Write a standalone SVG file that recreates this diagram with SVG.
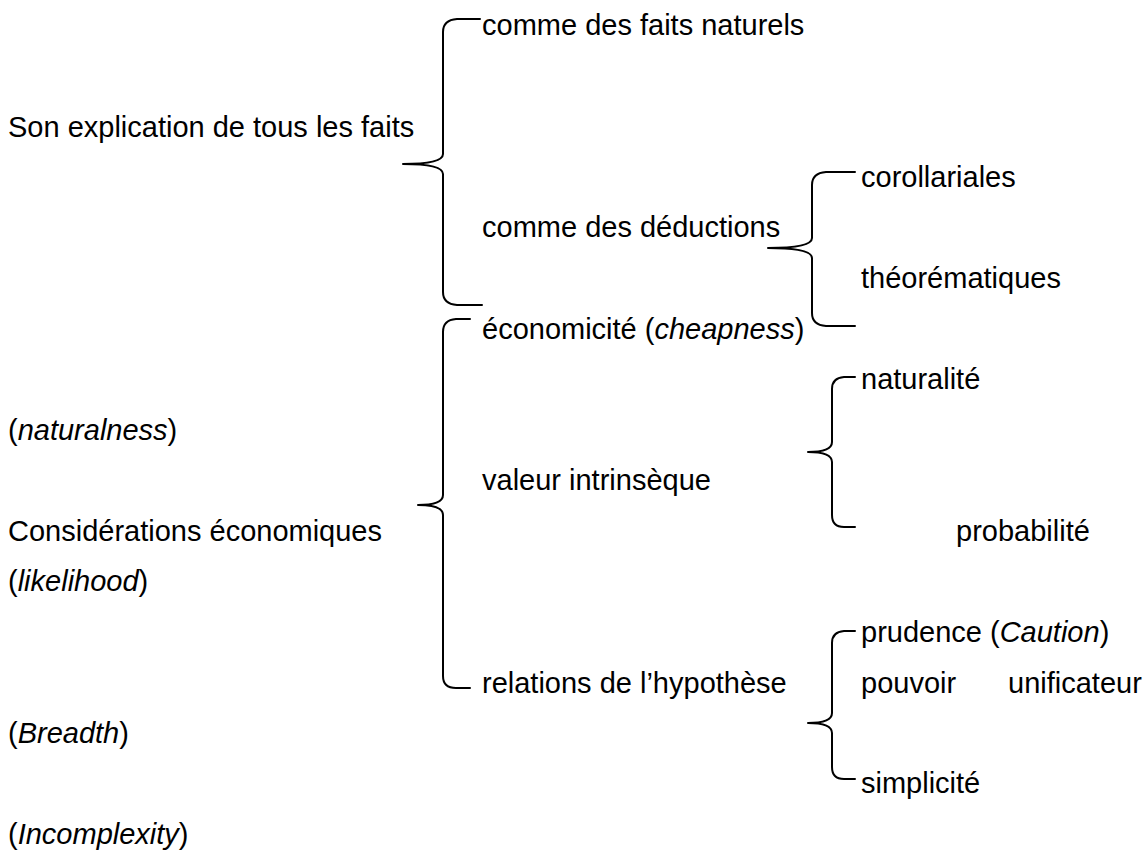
<svg xmlns="http://www.w3.org/2000/svg" width="1146" height="851" viewBox="0 0 1146 851">
<style>
text{font-family:"Liberation Sans",Arial,sans-serif;font-size:29px;fill:#000}
.i{font-style:italic}
.brace{fill:none;stroke:#000;stroke-width:2;stroke-linejoin:round;stroke-linecap:round}
</style>
<rect width="1146" height="851" fill="#fff"/>
<g id="connectors">
<path class="brace" d="M480,19 L457,19 Q443,20 443,32 L443,154 Q443,164 403,164 Q443,164 443,174 L443,292 Q443,304 457,305 L482,305"/>
<path class="brace" d="M470,319 L456,319 Q443,320 443,332 L443,495 Q443,505 418,505 Q443,505 443,515 L443,676 Q443,688 456,688 L470,688"/>
<path class="brace" d="M855,172 L826,172 Q812,173 812,185 L812,238 Q812,248 768,248 Q812,248 812,258 L812,313 Q812,325 826,326 L855,326"/>
<path class="brace" d="M855,377 L844,377 Q832,378 832,389 L832,442 Q832,452 808,452 Q832,452 832,462 L832,515 Q832,527 844,527 L855,527"/>
<path class="brace" d="M855,631 L844,631 Q832,632 832,643 L832,713 Q832,723 808,723 Q832,723 832,733 L832,767 Q832,779 844,779 L855,779"/>
</g>
<g id="n-faits"><text x="8" y="137">Son explication de tous les faits</text></g>
<g id="n-naturels"><text x="482" y="35">comme des faits naturels</text></g>
<g id="n-deductions"><text x="482" y="237">comme des déductions</text></g>
<g id="n-corollariales"><text x="861" y="187">corollariales</text></g>
<g id="n-theorematiques"><text x="861" y="288">théorématiques</text></g>
<g id="n-economicite"><text x="482" y="339">économicité (<tspan class="i">cheapness</tspan>)</text></g>
<g id="n-naturalite"><text x="861" y="389">naturalité</text></g>
<g id="n-naturalness"><text x="8" y="440">(<tspan class="i">naturalness</tspan>)</text></g>
<g id="n-valeur"><text x="482" y="490">valeur intrinsèque</text></g>
<g id="n-considerations"><text x="8" y="541">Considérations économiques</text></g>
<g id="n-probabilite"><text x="956" y="541">probabilité</text></g>
<g id="n-likelihood"><text x="8" y="591">(<tspan class="i">likelihood</tspan>)</text></g>
<g id="n-prudence"><text x="861" y="642">prudence (<tspan class="i">Caution</tspan>)</text></g>
<g id="n-relations"><text x="482" y="693">relations de l’hypothèse</text></g>
<g id="n-pouvoir"><text x="861" y="693">pouvoir</text><text x="1008" y="693">unificateur</text></g>
<g id="n-breadth"><text x="8" y="743">(<tspan class="i">Breadth</tspan>)</text></g>
<g id="n-simplicite"><text x="861" y="793">simplicité</text></g>
<g id="n-incomplexity"><text x="8" y="844">(<tspan class="i">Incomplexity</tspan>)</text></g>
</svg>
